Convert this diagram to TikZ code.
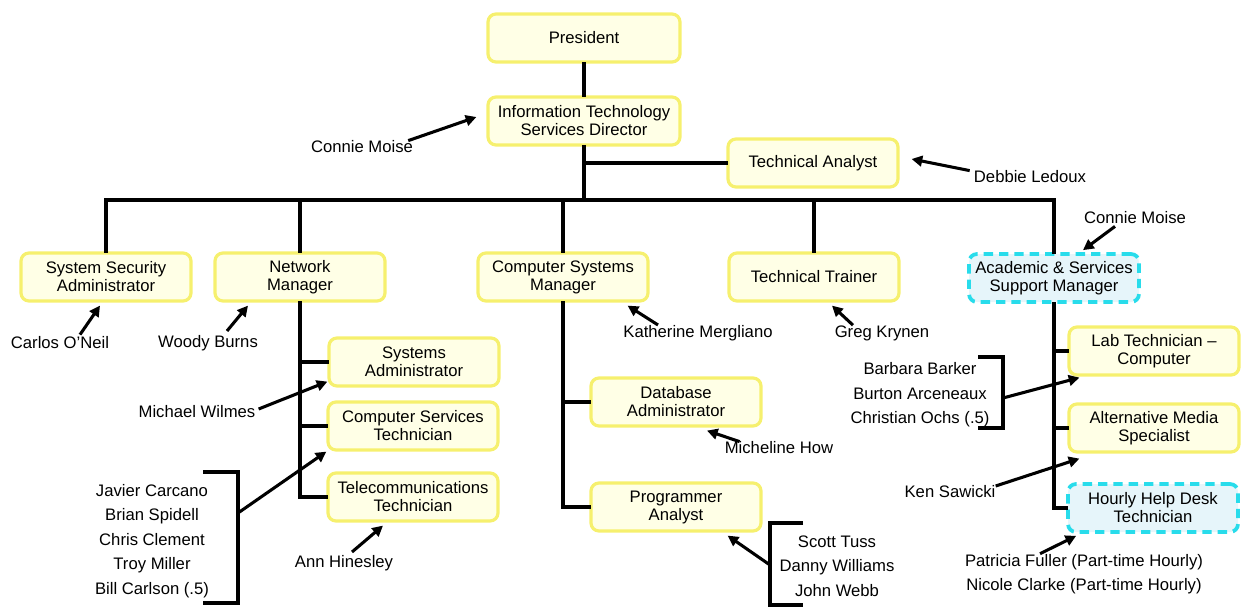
\documentclass[tikz,border=0pt]{standalone}
\usepackage{fontspec}
\setmainfont{Liberation Sans}
\usetikzlibrary{arrows.meta,calc}

\definecolor{boxline}{RGB}{246,240,110}
\definecolor{boxfill}{RGB}{255,255,230}
\definecolor{openline}{RGB}{40,220,235}
\definecolor{openfill}{RGB}{230,245,250}

\begin{document}
\begin{tikzpicture}[x=0.75pt,y=-0.75pt,
  font=\fontsize{12.5}{13.5}\selectfont,
  post/.style={draw=boxline,line width=2.4pt,fill=boxfill,rounded corners=6pt,
    align=center,minimum width=127.5pt,minimum height=36pt,inner sep=2pt},
  openpost/.style={post,draw=openline,fill=openfill,line width=2.8pt,dash pattern=on 7pt off 4.5pt},
  wide/.style={minimum width=144pt},
  who/.style={inner sep=0pt},
  crew/.style={inner sep=0pt,align=center,font=\fontsize{12.5}{18.4}\selectfont},
  tree/.style={line width=3pt,line cap=rect},
  point/.style={line width=2.3pt,-{Triangle[length=8pt,width=8pt]}},
  brace/.style={line width=2.3pt}]
  \useasboundingbox (0,0) rectangle (1241,608);

  \node[post,wide] (pres) at (584,38) {President};
  \node[post,wide] (itsd) at (584,121) {Information Technology\\Services Director};
  \node[post] (ta) at (813,163) {Technical Analyst};
  \node[post] (ssa) at (106,277) {System Security\\Administrator};
  \node[post] (netm) at (300,277) {Network\\Manager};
  \node[post] (csm) at (563,277) {Computer Systems\\Manager};
  \node[post] (trainer) at (814,277) {Technical Trainer};
  \node[openpost] (asm) at (1054,278) {Academic \& Services\\Support Manager};
  \node[post] (sysadm) at (414,362) {Systems\\Administrator};
  \node[post] (cstech) at (413,426) {Computer Services\\Technician};
  \node[post] (telecom) at (413,497) {Telecommunications\\Technician};
  \node[post] (dba) at (676,402) {Database\\Administrator};
  \node[post] (progan) at (676,507) {Programmer\\Analyst};
  \node[post] (labtech) at (1154,351) {Lab Technician --\\Computer};
  \node[post] (altmedia) at (1154,428) {Alternative Media\\Specialist};
  \node[openpost] (helpdesk) at (1153,508) {Hourly Help Desk\\Technician};

  \coordinate (bus) at (584,200);
  \draw[tree] (pres) -- (itsd);
  \draw[tree] (itsd) -- (bus);
  \draw[tree] (ta) -- (ta -| itsd);
  \draw[tree] (ssa) |- (bus) -| (asm);
  \foreach \n in {netm,csm,trainer} \draw[tree] (\n) -- (\n |- bus);
  \foreach \n in {sysadm,cstech,telecom} \draw[tree] (netm) |- (\n);
  \foreach \n in {dba,progan} \draw[tree] (csm) |- (\n);
  \foreach \n in {labtech,altmedia,helpdesk} \draw[tree] (asm) |- (\n);

  \node[who] (moise1) at (362,147) {Connie Moise};
  \node[who] (ledoux) at (1030,177) {Debbie Ledoux};
  \node[who] (oneil) at (60,343) {Carlos O'Neil};
  \node[who] (burns) at (208,343) {Woody Burns};
  \node[who] (mergliano) at (698,333) {Katherine Mergliano};
  \node[who] (krynen) at (882,333) {Greg Krynen};
  \node[who] (moise2) at (1135,218) {Connie Moise};
  \node[who] (wilmes) at (197,412) {Michael Wilmes};
  \node[who] (hinesley) at (344,563) {Ann Hinesley};
  \node[who] (how) at (779,448) {Micheline How};
  \node[who] (sawicki) at (950,492) {Ken Sawicki};
  \node[crew] (cstechs) at (152,541) {Javier Carcano\\Brian Spidell\\Chris Clement\\Troy Miller\\Bill Carlson (.5)};
  \node[crew] (progs) at (837,566) {Scott Tuss\\Danny Williams\\John Webb};
  \node[crew] (labs) at (920,395) {Barbara Barker\\Burton Arceneaux\\Christian Ochs (.5)};
  \node[crew] (hourly) at (1084,574) {Patricia Fuller (Part-time Hourly)\\Nicole Clarke (Part-time Hourly)};

  \draw[brace] (203,472) -| (238,603) -- (203,603);
  \draw[brace] (803,523) -| (770,605) -- (803,605);
  \draw[brace] (978,357) -| (1003,428) -- (978,428);
  \coordinate (brk1) at (238,513);
  \coordinate (brk2) at (770,565);
  \coordinate (brk3) at (1003,398);

  \draw[point] ($(moise1.north east)+(-5,0)$) -- ($(itsd.west)+(-10,-4)$);
  \draw[point] ($(ledoux.north west)+(-4,0)$) -- ($(ta.east)+(12,-4)$);
  \draw[point] ($(oneil.north)+(20,-2)$) -- ($(ssa.south)+(-6,3)$);
  \draw[point] ($(burns.north)+(19,-4)$) -- ($(netm.south)+(-52,3)$);
  \draw[point] ($(mergliano.north)+(-40,0)$) -- ($(csm.south east)+(-22,3)$);
  \draw[point] ($(krynen.north)+(-29,0)$) -- ($(trainer.south)+(18,3)$);
  \draw[point] ($(moise2.south)+(-20,2)$) -- ($(asm.north)+(29,-2)$);
  \draw[point] ($(wilmes.east)+(3,-3)$) -- ($(sysadm.south west)+(0,-6)$);
  \draw[point] (brk1) -- (cstech.south west);
  \draw[point] ($(hinesley.north)+(8,-3)$) -- ($(telecom.south)+(-30,3)$);
  \draw[point] ($(how.north west)+(15,0)$) -- ($(dba.south)+(31,3)$);
  \draw[point] (brk2) -- ($(progan.south east)+(-35,3)$);
  \draw[point] (brk3) -- ($(labtech.south west)+(12,1)$);
  \draw[point] ($(sawicki.east)+(0,-6)$) -- ($(altmedia.south west)+(12,5)$);
  \draw[point] ($(hourly.north)+(-44,0)$) -- ($(helpdesk.south west)+(10,2)$);
\end{tikzpicture}
\end{document}
